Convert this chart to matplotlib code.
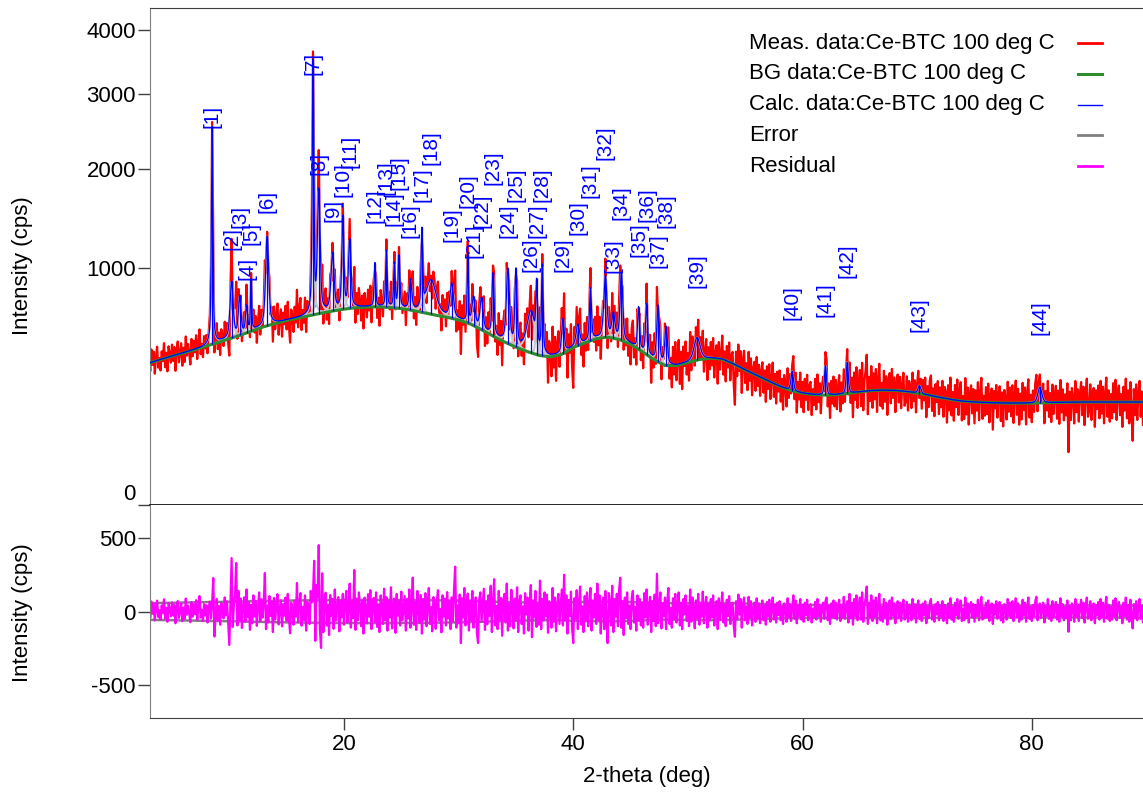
import numpy as np
import matplotlib.pyplot as plt
from matplotlib.lines import Line2D

plt.rcParams['font.family'] = ['Liberation Sans', 'DejaVu Sans']
plt.rcParams['axes.unicode_minus'] = False

# background (cps) read at 1 deg steps, 3..90 deg
bg_deg = np.arange(3, 91)
bg_cps = [357, 375, 393, 410, 428, 448, 468, 490, 512, 538,
          563, 585, 604, 620, 636, 652, 667, 680, 690, 695,
          696, 692, 684, 671, 655, 639, 625, 607, 582, 545,
          506, 471, 442, 417, 397, 389, 403, 440, 466, 490,
          500, 486, 458, 418, 376, 345, 345, 360, 375, 382,
          377, 352, 323, 298, 273, 250, 232, 222, 216, 214,
          216, 221, 227, 232, 234, 233, 229, 222, 214, 205,
          197, 191, 188, 186, 185, 184, 184, 184, 185, 186,
          187, 188, 188, 188, 188, 188, 188, 188]
# error band (cps), same 1 deg steps
err_cps = [57, 58, 59, 61, 62, 64, 65, 66, 68, 70,
           71, 73, 74, 75, 76, 77, 77, 78, 79, 79,
           79, 79, 78, 78, 77, 76, 75, 74, 72, 70,
           67, 65, 63, 61, 60, 59, 60, 63, 65, 66,
           67, 66, 64, 61, 58, 56, 56, 57, 58, 59,
           58, 56, 54, 52, 50, 47, 46, 45, 44, 44,
           44, 45, 45, 46, 46, 46, 45, 45, 44, 43,
           42, 41, 41, 41, 41, 41, 41, 41, 41, 41,
           41, 41, 41, 41, 41, 41, 41, 41]

# fitted peaks: position (deg), net height (cps), FWHM (deg)
peak_pos = [8.5, 10.2, 10.9, 11.5, 11.9, 13.3, 17.3, 17.8, 19.0, 19.9,
            20.5, 22.7, 23.7, 24.4, 24.8, 25.8, 26.8, 27.6, 29.4, 30.8,
            31.3, 32.0, 33.0, 34.3, 35.0, 36.3, 36.8, 37.3, 39.1, 40.4,
            41.5, 42.8, 43.5, 44.2, 45.7, 46.4, 47.4, 48.1, 50.8, 59.1,
            62.0, 63.9, 70.2, 80.7]
peak_height = [2080, 390, 260, 170, 360, 710, 2850, 1100, 450, 790,
               560, 340, 450, 340, 410, 220, 650, 250, 245, 510,
               190, 210, 440, 520, 530, 250, 410, 610, 205, 125,
               350, 430, 150, 470, 260, 310, 340, 215, 125, 85,
               130, 140, 32, 62]
peak_fwhm = [0.14, 0.3, 0.25, 0.2, 0.12, 0.3, 0.14, 0.25, 0.3, 0.2,
             0.25, 0.15, 0.15, 0.15, 0.18, 0.25, 0.15, 1.0, 0.35, 0.12,
             0.3, 0.3, 0.2, 0.3, 0.2, 0.8, 0.15, 0.15, 0.25, 0.35,
             0.2, 0.3, 0.3, 0.25, 0.2, 0.2, 0.25, 0.25, 0.6, 0.25,
             0.2, 0.2, 0.3, 0.4]
peak_labels = ['[%d]' % (i + 1) for i in range(len(peak_pos))]
label_y = [2520, 1153, 1360, 898, 1199, 1512, 3278, 1931, 1420, 1682,
           2014, 1410, 1704, 1380, 1759, 1264, 1628, 2050, 1226, 1564,
           1082, 1360, 1815, 1264, 1628, 963, 1264, 1628, 963, 1293,
           1671, 2110, 954, 1440, 1090, 1420, 996, 1360, 835, 607,
           627, 914, 531, 512]

# residual (meas - calc, cps), 0.1 deg steps from 3.0 deg
resid = [
    35, -42, 68, -15, 52, -61, 20, 74, -38, 9,
    -55, 41, -12, 83, -47, 26, -70, 58, 14, -33,
    62, -28, 45, -80, 19, 71, -44, 3, 56, -66,
    27, -51, 88, -22, 40, -9, -73, 64, -35, 48,
    -18, 77, -59, 31, 105, -41, 12, -64, 50, -27,
    43, -75, 22, 68, -48, 60, 228, -170, -30, 85,
    -62, 37, -90, 58, 16, -47, 96, -25, 70, -84,
    -228, 64, 364, -105, 48, 120, 330, -95, 140, -60,
    88, -112, 35, 97, -70, 150, -38, 62, -125, 45,
    -80, 110, -34, 72, -98, 26, 130, -66, 84, -42,
    58, 262, -120, 40, -75, 105, -30, 68, -140, 92,
    -55, 36, 118, -88, 14, 76, -102, 50, -28, 95,
    -64, 120, -45, -148, 60, 22, -90, 74, -35, 194,
    -70, 48, 125, -96, 32, -58, 110, -130, 66, 18,
    -85, 140, 62, 120, 345, -200, 180, 95, 452, -120,
    -248, 260, -140, 75, 128, -95, 46, -160, 112, -30,
    85, -118, 150, -62, 34, 98, -135, 72, -40, 120,
    -90, 55, 140, -75, 22, 190, -110, 65, -45, 282,
    -125, 88, -60, 130, 40, -100, 75, -150, 95, 20,
    -80, 118, -35, 145, -120, 60, 92, -70, 130, -105,
    48, -140, 110, 25, -85, 155, -60, 98, -130, 72,
    -40, 165, -115, 52, 88, -145, 120, -28, 70, -95,
    135, -60, 20, 105, -130, 84, -48, 150, -110, 38,
    230, -90, 66, -125, 140, 10, -75, 112, -150, 85,
    -55, 125, -100, 42, 160, -85, 30, -135, 98, 60,
    -118, 74, 145, -60, 18, -142, 110, -35, 88, -95,
    132, -48, 70, -120, 96, -70, 150, 305, -110, 40,
    -80, 115, -215, 90, -40, 160, -95, 58, 122, -130,
    75, -60, 140, -110, 28, 96, -150, -215, 85, 130,
    -70, 45, 155, -125, 68, -88, 110, -30, 175, -140,
    60, 220, -95, 38, -120, 140, -55, 92, -165, 80,
    120, -75, 190, -130, 52, -100, 148, 30, -115, 88,
    -60, 165, -140, 70, 110, -85, 35, -150, 125, -20,
    95, -130, 60, 180, -175, 75, -40, 140, -105, 50,
    -90, 210, -120, 85, -60, 130, -30, 115, -145, 70,
    40, -110, 160, -70, 95, -135, 55, 120, -85, 30,
    150, -95, 250, -60, 110, -150, 78, -30, 135, -115,
    -215, 90, -50, 145, -120, 60, 170, -90, 35, -140,
    105, -65, 130, -100, 48, 160, -130, 75, -40, 120,
    -85, 190, -60, 110, -150, 30, 95, -120, 140, -70,
    -215, 125, 60, -95, 175, -140, 85, -35, 120, -100,
    150, 230, -110, 70, -160, 95, -45, 130, -85, 40,
    -120, 90, 140, -75, 30, -130, 110, -60, 85, -95,
    60, -110, 125, -40, 150, -90, 35, 100, -140, 70,
    -65, 115, -100, 257, -80, 40, 130, -115, 55, -30,
    95, -120, 70, 160, -85, 25, -110, 90, -50, 120,
    -75, 45, 130, -95, 60, -120, 85, -20, 110, -65,
    40, -100, 150, -70, 95, 30, -115, 75, -45, 120,
    -90, 60, -35, 135, -80, 20, 100, -110, 55, -60,
    85, -40, 110, -95, 30, 70, -120, 90, -55, 25,
    130, -75, 45, -100, 80, -30, 105, -85, 40, 60,
    -95, -172, 70, -50, 115, -20, 85, -110, 45, 95,
    -60, 35, -85, 100, -40, 70, -95, 25, 60, -70,
    90, -45, 55, -80, 30, 75, -60, 40, -90, 65,
    -35, 80, -70, 20, 95, -55, 45, -75, 60, -25,
    70, -60, 35, -85, 55, 20, -70, 90, -40, 50,
    -65, 30, 110, -50, 75, -80, 40, -30, 85, -55,
    45, -70, 60, -25, 80, -60, 35, 50, -75, 20,
    -40, 65, -55, 85, -30, 45, -70, 30, 60, -50,
    70, 95, -60, 40, -85, 55, -35, 75, -45, 60,
    -55, 30, 80, -65, 45, -40, 100, -50, 35, 70,
    -75, 120, -45, 60, -90, 85, -30, 110, -60, 40,
    95, -55, 130, -70, 45, 90, 170, -85, 60, -40,
    110, -65, 75, -35, 95, -80, 50, 120, -60, 30,
    -70, 85, -45, 60, -90, 40, 75, -50, 95, -30,
    55, -80, 30, 70, -45, 60, -65, 25, 80, -55,
    -40, 65, -70, 45, 20, -60, 85, -35, 50, -75,
    30, 75, -50, 40, -65, 55, -25, 70, -80, 35,
    -45, 60, 85, -55, 30, -70, 50, -20, 65, -60,
    40, -35, 70, -65, 45, 25, -80, 55, -40, 90,
    -55, 30, -70, 60, -25, 85, -50, 40, 75, -65,
    20, -60, 95, -45, 55, -75, 30, 65, -40, 50,
    -70, 45, -30, 80, -60, 35, 100, -55, 25, -45,
    60, -40, 75, -65, 30, 55, -85, 45, -20, 70,
    -50, 35, 65, -60, 40, -75, 50, 20, -55, 85,
    -30, 60, -45, 70, -65, 25, 90, -40, 55, -70,
    35, -55, 80, -25, 60, -70, 40, 95, -50, 30,
    -65, 45, -35, 70, 100, -60, 30, 55, -45, 20,
    60, -75, 40, -30, 85, -50, 35, -65, 70, -40,
    25, 65, -55, 45, -70, 90, -35, 50, -60, 30,
    -45, 75, -138, 40, -60, 55, 20, -70, 85, -35,
    50, -65, 30, 80, -45, 60, -75, 35, 95, -50,
    -30, 70, -60, 40, 55, -80, 45, -25, 65, -55,
    85, -40, 60, -70, 35, 100, -50, 45, -65, 30,
    -55, 75, -35, 90, -60, 40, 65, -45, 30, -80,
    60, -30, 95, -55, 45, -70, 80, -40, -115, 50,
    -45, 70, -60, 35, 85, -50, 40, -75, 60, -30,
    45]

W, H = 1143, 796


def profile(x, pos, h, w):
    # pseudo-Voigt, half Lorentzian / half Gaussian
    t = (x - pos) / w
    return h * (0.5 / (1 + 4 * t ** 2) + 0.5 * np.exp(-4 * np.log(2) * t ** 2))


def calc_pattern(x):
    y = np.interp(x, bg_deg, bg_cps)
    for p, h, w in zip(peak_pos, peak_height, peak_fwhm):
        y = y + profile(x, p, h, w)
    return y


x_meas = np.round(3.0 + 0.1 * np.arange(len(resid)), 1)
meas = calc_pattern(x_meas) + np.array(resid)
x_fine = np.arange(3.0, 90.0001, 0.01)
calc_fine = calc_pattern(x_fine)
bg_fine = np.interp(x_fine, bg_deg, bg_cps)

fig = plt.figure(figsize=(W / 100, H / 100), dpi=100)
ax = fig.add_axes([150 / W, 1 - 505 / H, 993 / W, 497 / H])
axr = fig.add_axes([150 / W, 1 - 718 / H, 993 / W, 213 / H])

# main panel
ax.plot(x_meas, meas, color='#ff0000', lw=1.6, zorder=1)
for p, h, w in zip(peak_pos, peak_height, peak_fwhm):
    m = np.abs(x_fine - p) < 6 * w
    ax.plot(x_fine[m], bg_fine[m] + profile(x_fine[m], p, h, w),
            color='#c8c8c8', lw=1.5, zorder=2)
ax.plot(bg_deg, bg_cps, color='#2e8b2e', lw=2.2, zorder=3)
ax.plot(x_fine, calc_fine, color='#0000ff', lw=0.9, zorder=4)
ax.vlines(peak_pos, np.interp(peak_pos, bg_deg, bg_cps), calc_pattern(np.array(peak_pos)),
          color='#0000ff', lw=0.9, zorder=4)
for p, ly, lab in zip(peak_pos, label_y, peak_labels):
    ax.text(p, ly, lab, rotation=90, ha='center', va='bottom', color='#0000ff', fontsize=15)

ax.set_yscale('function', functions=(lambda v: np.sign(v) * np.sqrt(np.abs(v)),
                                     lambda v: np.sign(v) * v ** 2))
ax.set_xlim(3.08, 89.7)
ax.set_ylim(0, 4380)
ax.set_yticks([0, 1000, 2000, 3000, 4000])
ax.set_yticklabels(['', '1000', '2000', '3000', '4000'])
ax.yaxis.set_minor_locator(plt.NullLocator())
ax.tick_params(axis='y', direction='out', length=8.6, width=1, color='#404040', labelsize=16, pad=1.5)
ax.tick_params(axis='x', bottom=False, labelbottom=False)
ax.yaxis.get_major_ticks()[0].tick1line.set_color('black')
ax.spines['right'].set_visible(False)
ax.spines['top'].set_color('#404040')
ax.spines['left'].set_color('#808080')
ax.spines['bottom'].set_color('black')
ax.spines['bottom'].set_linewidth(1.2)
ax.set_ylabel('Intensity (cps)', fontsize=16)
ax.yaxis.set_label_coords(-0.118, 0.481)
fig.text(136 / W, 1 - 495 / H, '0', ha='right', va='center', fontsize=16)

# residual panel
axr.plot(bg_deg, err_cps, color='#808080', lw=1.8, zorder=1)
axr.plot(bg_deg, -np.array(err_cps), color='#808080', lw=1.8, zorder=1)
axr.plot(x_meas, resid, color='#ff00ff', lw=1.6, zorder=2)
axr.set_xlim(3.08, 89.7)
axr.set_ylim(-725, 725)
axr.set_yticks([-500, 0, 500])
axr.set_xticks([20, 40, 60, 80])
axr.tick_params(direction='out', length=8.6, width=1, color='#404040', labelsize=16, pad=1.5)
axr.tick_params(axis='x', pad=3)
axr.spines['top'].set_visible(False)
axr.spines['right'].set_visible(False)
axr.spines['left'].set_color('#808080')
axr.spines['bottom'].set_color('#404040')
axr.set_ylabel('Intensity (cps)', fontsize=16)
axr.yaxis.set_label_coords(-0.118, 0.493)
axr.set_xlabel('2-theta (deg)', fontsize=16)
axr.xaxis.set_label_coords(0.5, -0.225)

# legend
legend_rows = ['Meas. data:Ce-BTC 100 deg C', 'BG data:Ce-BTC 100 deg C',
               'Calc. data:Ce-BTC 100 deg C', 'Error', 'Residual']
legend_colors = ['#ff0000', '#2e8b2e', '#0000ff', '#808080', '#ff00ff']
legend_lw = [2, 2.2, 1, 2, 2]
for i, (txt, c, lw) in enumerate(zip(legend_rows, legend_colors, legend_lw)):
    yy = 1 - (43 + 30.75 * i) / H
    fig.text(749 / W, yy, txt, ha='left', va='center', fontsize=16)
    fig.add_artist(Line2D([1078 / W, 1102 / W], [yy, yy], color=c, lw=lw))

fig.savefig('out.png', dpi=100)
